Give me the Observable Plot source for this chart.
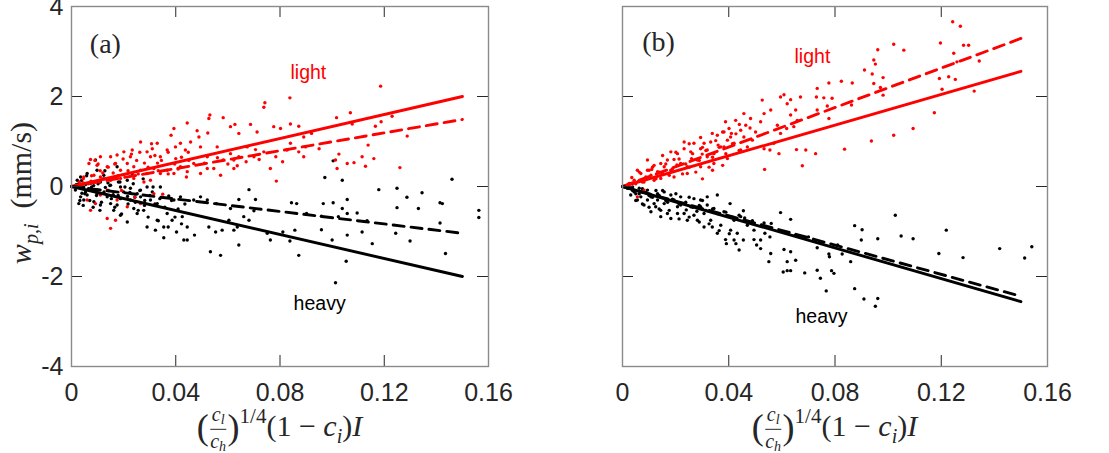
<!DOCTYPE html>
<html><head><meta charset="utf-8">
<script src="https://cdn.jsdelivr.net/npm/d3@7"></script>
<script src="https://cdn.jsdelivr.net/npm/@observablehq/plot@0.6"></script>
<style>
body{margin:0;background:#fff;}
#wrap{position:relative;width:1109px;height:453px;overflow:hidden;background:#fff;}
.plot{position:absolute;top:0;}
.lab{position:absolute;font-family:"Liberation Serif","DejaVu Serif",serif;color:#262626;font-size:30px;white-space:nowrap;line-height:1;}
.lab i{font-style:italic;}
.lab sub{font-size:20px;vertical-align:-7px;font-style:italic;}
.lab sup{font-size:21px;vertical-align:13px;}
.frac{display:inline-block;vertical-align:middle;text-align:center;font-size:20px;line-height:1.05;margin:0 1px;}
.frac .num{display:block;border-bottom:1.4px solid #262626;padding:0 2px 1px;}
.frac .den{display:block;padding-top:1px;}
.frac sub{font-size:14px;vertical-align:-3px;}
.big{font-size:36px;vertical-align:-3px;}
</style></head><body><div id="wrap"></div>
<script>
// ---- tick values ----
const xTicks = [0, 0.04, 0.08, 0.12, 0.16];
const yTicks = [-4, -2, 0, 2, 4];

// ---- panel (a) data: [x, w] ----
const lightA = [
[0.1186,2.23],[0.0838,1.97],[0.0742,1.86],[0.0738,1.76],[0.0531,1.59],[0.0527,1.51],[0.0582,1.53],[0.0444,1.41],
[0.0393,1.29],[0.0482,1.24],[0.0523,1.19],[0.061,1.33],[0.0627,1.38],[0.0642,1.18],[0.0687,1.38],[0.0712,1.21],
[0.0776,1.33],[0.0802,1.29],[0.084,1.39],[0.0872,1.34],[0.0891,1.10],[0.0921,1.18],[0.1017,1.53],[0.107,1.64],
[0.1077,1.39],[0.1166,1.34],[0.1188,1.44],[0.123,1.56],[0.1288,1.12],[0.1138,0.92],[0.1026,0.72],[0.1115,0.66],
[0.116,0.62],[0.1128,0.45],[0.126,0.42],[0.1084,0.53],[0.1058,0.51],[0.1019,0.40],[0.1013,0.59],[0.0891,0.66],
[0.0872,0.77],[0.0898,0.88],[0.0827,0.81],[0.084,0.96],[0.0784,0.66],[0.0763,0.40],[0.0786,0.12],[0.0738,0.77],
[0.0706,0.82],[0.07,0.66],[0.0674,0.88],[0.0642,0.66],[0.0623,0.59],[0.0636,0.46],[0.0623,0.40],[0.061,0.73],
[0.0582,0.59],[0.0572,0.25],[0.0546,0.40],[0.0559,0.88],[0.0521,0.66],[0.0495,0.88],[0.0489,1.10],[0.0457,0.99],
[0.0437,0.81],[0.0418,0.96],[0.0399,0.88],[0.0382,1.14],[0.0367,0.81],[0.0341,0.66],[0.0329,0.96],[0.031,0.84],
[0.0303,0.66],[0.029,0.77],[0.0265,0.99],[0.0233,0.81],[0.0226,0.66],[0.0201,0.77],[0.0175,0.70],[0.015,0.66],
[0.0111,0.66],[0.0073,0.60],[0.0067,0.51],[0.0098,0.47],[0.0137,0.44],[0.0169,0.51],[0.0188,0.36],[0.0214,0.51],
[0.0239,0.44],[0.0265,0.36],[0.029,0.29],[0.0316,0.40],[0.0341,0.29],[0.0367,0.36],[0.0393,0.29],[0.0418,0.44],
[0.0444,0.33],[0.0469,0.51],[0.0495,0.29],[0.0521,0.40],[0.0303,0.14],[0.0278,0.10],[0.0239,0.18],[0.0188,0.18],
[0.015,0.14],[0.0111,0.21],[0.0086,0.25],[0.0047,0.21],[0.0137,-0.08],[0.0175,-0.30],[0.0111,-0.19],[0.0073,-0.53],
[0.015,-0.93],[0.0137,-0.71],[0.0169,-0.75],[0.0214,-0.45],[0.0265,-0.38],[0.0316,-0.16],[0.035,-0.17],[0.006,-0.30],
[0.0092,-0.38],[0.0045,0.08],[0.0075,0.12],[0.012,0.30],[0.020,0.26],[0.025,0.58],[0.033,0.52],[0.040,0.62],
[0.045,0.58],[0.051,0.52],[0.056,0.64],[0.060,0.50],[0.067,0.55],[0.072,0.60],[0.081,0.55],[0.095,0.84],
[0.009,0.58],[0.0102,0.50],[0.0141,0.43],[0.0166,0.50],[0.0198,0.61],[0.023,0.72],[0.0262,0.76],[0.0307,0.95],
[0.032,0.69],[0.0345,0.58],[0.0371,0.76],[0.0396,0.50],[0.0422,0.65],[0.0448,0.76],[0.0128,0.17],[0.0179,0.24],
[0.0217,0.35],[0.0256,0.28],[0.0294,0.43],[0.0333,0.35],[0.0371,0.28],[0.0409,0.39],[0.0441,0.21],[0.0077,0.24],
[0.0064,0.06],[0.0045,0.17],[0.0192,-0.09],[0.0243,-0.24],[0.0030,0.10],[0.0110,0.35],[0.0160,0.30],[0.0280,0.52]
];
const heavyA = [
[0.1013,-2.14],[0.1054,-1.66],[0.0872,-1.53],[0.0572,-1.53],[0.0533,-1.45],[0.1,-1.19],[0.1058,-1.08],[0.1115,-1.01],
[0.1154,-1.27],[0.1244,-1.04],[0.1299,-1.21],[0.1435,-1.49],[0.1414,-0.81],[0.1423,-0.38],[0.1414,-0.36],[0.1563,-0.69],
[0.1563,-0.53],[0.146,0.16],[0.1345,-0.14],[0.1287,-0.24],[0.1249,-0.47],[0.1331,-0.49],[0.1179,-0.07],[0.1249,-0.04],
[0.1134,-0.76],[0.1096,-0.59],[0.1058,-0.60],[0.1039,-0.49],[0.1039,0.14],[0.1004,0.57],[0.0972,0.20],[0.0966,-0.38],
[0.0959,-0.96],[0.1004,-0.36],[0.1058,-0.29],[0.1024,-0.67],[0.0959,-0.66],[0.0902,-0.60],[0.0864,-0.38],[0.0844,-0.36],
[0.0857,-0.97],[0.0838,-1.21],[0.0811,-1.01],[0.0763,-1.19],[0.0751,-1.04],[0.07,-0.54],[0.0681,-0.07],[0.0706,-0.29],
[0.0642,-0.29],[0.0661,-0.67],[0.0681,-0.75],[0.0636,-0.90],[0.0642,-1.30],[0.0623,-0.97],[0.0604,-0.75],[0.061,-0.49],
[0.0578,-0.97],[0.0553,-1.01],[0.0527,-0.90],[0.0556,-0.38],[0.0521,-0.30],[0.0495,-0.23],[0.0472,-1.08],[0.0444,-1.19],
[0.0431,-1.19],[0.0444,-0.90],[0.0425,-0.67],[0.0403,-1.01],[0.0386,-0.75],[0.0367,-0.60],[0.0354,-1.14],[0.0354,-0.90],
[0.0322,-0.97],[0.029,-0.90],[0.0329,-0.75],[0.0393,-0.30],[0.0373,-0.21],[0.0418,-0.23],[0.0469,-0.30],[0.0277,-0.53],
[0.0252,-0.60],[0.0239,-0.49],[0.0214,-0.79],[0.0188,-0.64],[0.0162,-0.53],[0.0175,-0.41],[0.015,-0.38],[0.0111,-0.41],
[0.0086,-0.34],[0.0047,-0.30],[0.0028,-0.38],[0.0035,-0.23],[0.006,-0.19],[0.0098,-0.16],[0.0137,-0.23],[0.0188,-0.27],
[0.0226,-0.30],[0.0265,-0.23],[0.0303,-0.30],[0.0329,-0.38],[0.0047,-0.01],[0.0073,0.07],[0.0111,0.10],[0.015,0.03],
[0.0188,-0.01],[0.0226,-0.04],[0.0265,-0.08],[0.0035,0.21],[0.006,0.29],[0.0098,0.36],[0.0092,0.59],[0.0022,0.14],
[0.0015,-0.08],[0.0054,-0.12],[0.0124,0.25],[0.0169,0.21],[0.0214,0.14],[0.029,-0.01],[0.0252,-0.16],[0.0175,0.44],
[0.0341,-0.01],[0.031,-0.12],[0.0233,0.29],[0.0025,0.05],[0.0040,-0.15],[0.0065,-0.05],[0.0085,0.02],[0.0100,-0.08],
[0.0125,-0.12],[0.0140,0.08],[0.0160,-0.18],[0.0180,0.10],[0.0200,-0.12],[0.0215,-0.22],[0.0245,-0.35],[0.0280,-0.42],
[0.0038,0.13],[0.0058,0.24],[0.0077,-0.01],[0.0102,0.06],[0.0122,0.17],[0.0141,-0.09],[0.0051,-0.16],[0.0070,-0.31],
[0.0096,-0.20],[0.0115,-0.35],[0.0153,-0.27],[0.0179,-0.20],[0.0205,-0.01],[0.0224,-0.13],[0.0243,-0.24],[0.0262,-0.09],
[0.0281,-0.31],[0.0301,-0.20],[0.0320,-0.39],[0.0339,-0.27],[0.0358,-0.46],[0.0384,-0.31],[0.0409,-0.50],[0.0435,-0.39],
[0.0166,-0.46],[0.0192,-0.61],[0.0217,-0.39],[0.0256,-0.53],[0.0294,-0.68],[0.0333,-0.76],[0.0371,-0.90],[0.0397,-0.68],
[0.0422,-0.83],[0.0128,0.35],[0.0026,-0.01],[0.0032,-0.31],[0.0045,-0.42],[0.0083,-0.46],[0.0109,-0.53],[0.0147,0.02],
[0.0186,0.10],[0.0237,0.06],[0.0275,0.17],[0.0313,-0.01],[0.0018,0.04],[0.0055,0.05],[0.0090,-0.10],[0.0130,-0.02]
];
const lightFitA  = [[0, 0], [0.15, 2.00]];
const lightMeanA = [[0, 0], [0.15, 1.49]];
const heavyFitA  = [[0, 0], [0.15, -2.00]];
const heavyMeanA = [[0, 0], [0.15, -1.04]];

// ---- panel (b) data: [x, w] ----
const lightB = [
[0.1243,3.66],[0.1272,3.56],[0.1197,3.19],[0.1021,3.16],[0.1059,3.03],[0.0961,3.04],[0.0946,2.81],[0.0952,2.72],
[0.0911,2.59],[0.094,2.50],[0.0981,2.42],[0.0946,2.29],[0.0971,2.20],[0.0981,2.03],[0.1247,2.96],[0.1284,3.14],
[0.1303,3.14],[0.1259,2.77],[0.1343,2.79],[0.1193,2.40],[0.1228,2.44],[0.1253,2.38],[0.1203,2.16],[0.1324,2.12],
[0.1174,1.64],[0.1094,1.29],[0.1021,1.14],[0.0937,1.01],[0.0836,0.83],[0.0865,2.30],[0.0824,2.34],[0.0777,2.30],
[0.0733,2.18],[0.073,1.99],[0.0758,1.97],[0.0789,1.96],[0.0771,1.79],[0.0733,1.70],[0.0777,1.51],[0.0862,1.81],
[0.067,1.99],[0.0633,1.93],[0.062,1.84],[0.0608,2.04],[0.0595,1.99],[0.0652,1.70],[0.0633,1.59],[0.0658,1.47],
[0.0645,1.33],[0.0618,1.29],[0.0583,1.36],[0.0595,1.18],[0.057,0.96],[0.0555,0.81],[0.0533,0.84],[0.0535,0.38],
[0.0589,0.73],[0.0655,0.82],[0.069,0.81],[0.0677,0.46],[0.0727,0.73],[0.0526,1.92],[0.0533,1.62],[0.0558,1.70],
[0.052,1.44],[0.0482,1.51],[0.0457,1.62],[0.0464,1.36],[0.0445,1.25],[0.0426,1.47],[0.0401,1.29],[0.0388,1.44],
[0.0407,1.10],[0.0395,1.03],[0.037,0.88],[0.0357,1.14],[0.0332,0.99],[0.0307,0.96],[0.0294,0.84],[0.0269,0.96],
[0.0257,0.77],[0.0232,0.84],[0.0207,0.73],[0.0194,0.60],[0.0169,0.59],[0.0144,0.51],[0.0119,0.47],[0.0094,0.59],
[0.0069,0.29],[0.0044,0.14],[0.0025,0.07],[0.0056,0.36],[0.0094,0.36],[0.0132,0.33],[0.0157,0.44],[0.0182,0.36],
[0.0219,0.51],[0.0244,0.44],[0.0282,0.59],[0.0319,0.66],[0.0344,0.73],[0.0382,0.88],[0.042,0.96],[0.0457,1.10],
[0.0489,1.03],[0.047,0.88],[0.0344,0.51],[0.0294,0.44],[0.0244,0.29],[0.0194,0.21],[0.0144,0.18],[0.0107,0.25],
[0.0081,0.10],[0.0182,0.77],[0.0232,0.99],[0.0294,1.09],[0.0338,1.18],[0.0382,1.21],[0.0395,0.62],[0.0319,0.81],
[0.0119,0.14],[0.0056,-0.23],[0.0081,-0.08],[0.0445,0.81],[0.0501,1.21],[0.0035,0.20],[0.0060,0.12],[0.0110,0.38],
[0.0150,0.30],[0.0205,0.48],[0.0260,0.62],[0.0300,0.72],[0.0360,0.92],[0.0410,1.18],[0.0440,1.38],[0.0480,1.30],
[0.0063,0.32],[0.0088,0.21],[0.0113,0.43],[0.0138,0.32],[0.0163,0.50],[0.0188,0.39],[0.0213,0.61],[0.0238,0.50],
[0.0264,0.73],[0.0289,0.58],[0.0314,0.80],[0.0339,0.65],[0.0364,0.87],[0.0389,0.73],[0.0414,0.95],[0.0439,0.80],
[0.0151,0.69],[0.0201,0.76],[0.0251,0.95],[0.0301,0.87],[0.0351,1.02],[0.0377,1.21],[0.0427,1.17],[0.0075,0.10],
[0.0126,0.17],[0.0176,0.25],[0.0226,0.28],[0.0276,0.32],[0.0326,0.43],[0.0377,0.47],[0.0050,0.06],[0.0100,0.36],
[0.0251,0.43],[0.0301,0.17],[0.0339,0.36]
];
const heavyB = [
[0.1027,-0.64],[0.1219,-0.97],[0.1049,-1.10],[0.1094,-1.16],[0.0961,-1.16],[0.0874,-0.87],[0.0902,-0.96],[0.0899,-1.19],
[0.142,-1.38],[0.1541,-1.34],[0.1514,-1.59],[0.1282,-1.58],[0.1191,-1.49],[0.0952,-2.66],[0.0961,-2.49],[0.0909,-2.50],
[0.0874,-2.27],[0.0767,-2.32],[0.0745,-2.04],[0.0733,-1.86],[0.0787,-1.87],[0.0796,-1.93],[0.0686,-1.92],[0.0605,-1.90],
[0.062,-1.87],[0.0633,-1.87],[0.0551,-1.67],[0.0652,-1.64],[0.062,-1.67],[0.0777,-1.50],[0.0779,-1.56],[0.0827,-1.50],
[0.0859,-1.67],[0.0743,-1.25],[0.0733,-1.36],[0.0633,-1.45],[0.0608,-1.40],[0.0558,-1.49],[0.052,-1.38],[0.0505,-1.30],
[0.0495,-1.18],[0.0555,-1.12],[0.0536,-1.04],[0.0595,-0.58],[0.0633,-0.73],[0.0533,-0.81],[0.0489,-0.76],[0.0455,-0.54],
[0.0445,-0.67],[0.0439,-1.41],[0.0455,-1.19],[0.0432,-1.04],[0.0407,-0.97],[0.0391,-1.27],[0.0388,-1.18],[0.0357,-0.19],
[0.0405,-0.38],[0.0357,-0.60],[0.037,-0.86],[0.0338,-0.90],[0.0332,-0.75],[0.0307,-0.60],[0.0294,-0.45],[0.0282,-0.75],
[0.0269,-0.64],[0.0244,-0.75],[0.0232,-0.60],[0.0207,-0.45],[0.0182,-0.71],[0.0169,-0.60],[0.0144,-0.53],[0.0119,-0.38],
[0.0094,-0.30],[0.0069,-0.23],[0.0044,-0.12],[0.0031,-0.19],[0.0056,-0.30],[0.0081,-0.41],[0.0107,-0.23],[0.0132,-0.30],
[0.0157,-0.38],[0.0194,-0.30],[0.0219,-0.41],[0.0257,-0.45],[0.0294,-0.30],[0.0319,-0.41],[0.0344,-0.49],[0.0382,-0.56],
[0.042,-0.75],[0.047,-0.86],[0.0157,-0.12],[0.0132,-0.16],[0.0094,-0.08],[0.0182,-0.19],[0.0219,-0.23],[0.0269,-0.27],
[0.0319,-0.23],[0.0207,-0.60],[0.0144,-0.67],[0.0107,-0.56],[0.0019,-0.04],[0.0038,-0.01],[0.0063,-0.04],[0.0495,-0.97],
[0.052,-1.19],[0.042,-1.19],[0.0357,-1.04],[0.0307,-0.90],[0.0050,-0.16],[0.0075,-0.12],[0.0100,-0.20],[0.0125,-0.45],
[0.0170,-0.35],[0.0240,-0.52],[0.0280,-0.55],[0.0460,-0.70],[0.0560,-0.82],[0.0650,-1.08],[0.0700,-1.12],[0.0810,-1.30],
[0.0038,-0.09],[0.0063,-0.16],[0.0088,-0.13],[0.0113,-0.24],[0.0138,-0.20],[0.0163,-0.31],[0.0188,-0.28],[0.0213,-0.39],
[0.0238,-0.35],[0.0264,-0.46],[0.0289,-0.42],[0.0314,-0.53],[0.0339,-0.50],[0.0364,-0.61],[0.0389,-0.57],[0.0414,-0.68],
[0.0439,-0.64],[0.0050,-0.31],[0.0075,-0.39],[0.0100,-0.46],[0.0138,-0.50],[0.0176,-0.53],[0.0213,-0.72],[0.0251,-0.68],
[0.0289,-0.79],[0.0326,-0.83],[0.0364,-0.98],[0.0402,-1.05],[0.0427,-1.27],[0.0151,-0.09],[0.0201,-0.16],[0.0251,-0.24],
[0.0301,-0.31],[0.0075,-0.05],[0.0126,-0.09]
];
const lightFitB  = [[0, 0], [0.15, 2.56]];
const lightMeanB = [[0, 0], [0.15, 3.29]];
const heavyFitB  = [[0, 0], [0.15, -2.56]];
const heavyMeanB = [[0, 0], [0.15, -2.44]];

// ---- annotations ----
const tagA = [{x: 0.0130, y: 3.16, text: "(a)"}];
const tagB = [{x: 0.0136, y: 3.20, text: "(b)"}];
const labelsA = [{x: 0.0909, y: 2.53, text: "light", c: "#ff0000"}, {x: 0.0952, y: -2.60, text: "heavy", c: "#000000"}];
const labelsB = [{x: 0.0715, y: 2.89, text: "light", c: "#ff0000"}, {x: 0.0749, y: -2.89, text: "heavy", c: "#000000"}];

const RED = "#ff0000", INK = "#262626";
const H = 453, MT = 6, MB = 87;
const SANS = "Liberation Sans, Arial, sans-serif";

function panel(o) {
  const pw = o.width - o.ml - o.mr, ph = H - MT - MB;
  const P = d => d[0], W = d => d[1];
  const marks = [
    Plot.dot(o.heavy, {x: P, y: W, r: 1.7, fill: "#000", stroke: null}),
    Plot.dot(o.light, {x: P, y: W, r: 1.7, fill: RED, stroke: null}),
    Plot.line(o.lightMean, {x: P, y: W, stroke: RED, strokeWidth: 2.9, strokeDasharray: "11,7"}),
    Plot.line(o.lightFit, {x: P, y: W, stroke: RED, strokeWidth: 2.9}),
    Plot.line(o.heavyMean, {x: P, y: W, stroke: "#000", strokeWidth: 2.9, strokeDasharray: "11,7"}),
    Plot.line(o.heavyFit, {x: P, y: W, stroke: "#000", strokeWidth: 2.9}),
    Plot.tickX(xTicks, {x: d => d, insetTop: ph - 11, stroke: INK, strokeWidth: 1}),
    Plot.tickX(xTicks, {x: d => d, insetBottom: ph - 11, stroke: INK, strokeWidth: 1}),
    Plot.tickY(yTicks, {y: d => d, insetRight: pw - 11, stroke: INK, strokeWidth: 1}),
    Plot.tickY(yTicks, {y: d => d, insetLeft: pw - 11, stroke: INK, strokeWidth: 1}),
    Plot.frame({stroke: "#8a8a8a", strokeWidth: 1.4}),
    // x tick labels (as text marks so the font size is honoured)
    Plot.text(xTicks, {x: d => d, frameAnchor: "bottom", dy: 26, lineAnchor: "middle", text: d => String(d),
      fontSize: 25, fill: INK, fontFamily: SANS}),
    Plot.text(o.tag, {x: "x", y: "y", text: "text", fontSize: 28, fill: INK, fontFamily: "Liberation Serif, serif"}),
    Plot.text(o.labels, {x: "x", y: "y", text: "text", fill: "c", fontSize: 19.5, fontFamily: SANS})
  ];
  if (o.showY) marks.push(Plot.text(yTicks, {y: d => d, frameAnchor: "left", dx: -8, textAnchor: "end", lineAnchor: "middle",
      text: d => String(d), fontSize: 25, fill: INK, fontFamily: SANS}));
  const svg = Plot.plot({
    width: o.width, height: H,
    marginLeft: o.ml, marginRight: o.mr, marginTop: MT, marginBottom: MB,
    x: {domain: [0, 0.16], axis: null},
    y: {domain: [-4, 4], axis: null},
    style: {fontFamily: SANS, background: "transparent", overflow: "visible"},
    marks
  });
  svg.classList.add("plot");
  svg.style.left = o.left + "px";
  return svg;
}

const wrap = document.getElementById("wrap");
wrap.appendChild(panel({left: 0, width: 560, ml: 71, mr: 72, showY: true,
  light: lightA, heavy: heavyA, lightFit: lightFitA, lightMean: lightMeanA, heavyFit: heavyFitA, heavyMean: heavyMeanA,
  tag: tagA, labels: labelsA}));
wrap.appendChild(panel({left: 560, width: 549, ml: 62, mr: 62, showY: false,
  light: lightB, heavy: heavyB, lightFit: lightFitB, lightMean: lightMeanB, heavyFit: heavyFitB, heavyMean: heavyMeanB,
  tag: tagB, labels: labelsB}));

// axis titles (math-style text)
const xTitle = '<span class="big">(</span><span class="frac"><span class="num"><i>c</i><sub>l</sub></span><span class="den"><i>c</i><sub>h</sub></span></span><span class="big">)</span><sup>1/4</sup>(1 &minus; <i>c</i><sub>i</sub>)<i>I</i>';
for (const cx of [279.5, 834.5]) {
  const d = document.createElement("div");
  d.className = "lab";
  d.innerHTML = xTitle;
  d.style.left = cx + "px";
  d.style.top = "429px";
  d.style.transform = "translate(-50%,-50%)";
  wrap.appendChild(d);
}
const yl = document.createElement("div");
yl.className = "lab";
yl.innerHTML = '<i>w</i><sub>p,i</sub>&nbsp;&nbsp;(mm/s)';
yl.style.left = "23px";
yl.style.top = "193px";
yl.style.transform = "translate(-50%,-50%) rotate(-90deg)";
wrap.appendChild(yl);
</script></body></html>
